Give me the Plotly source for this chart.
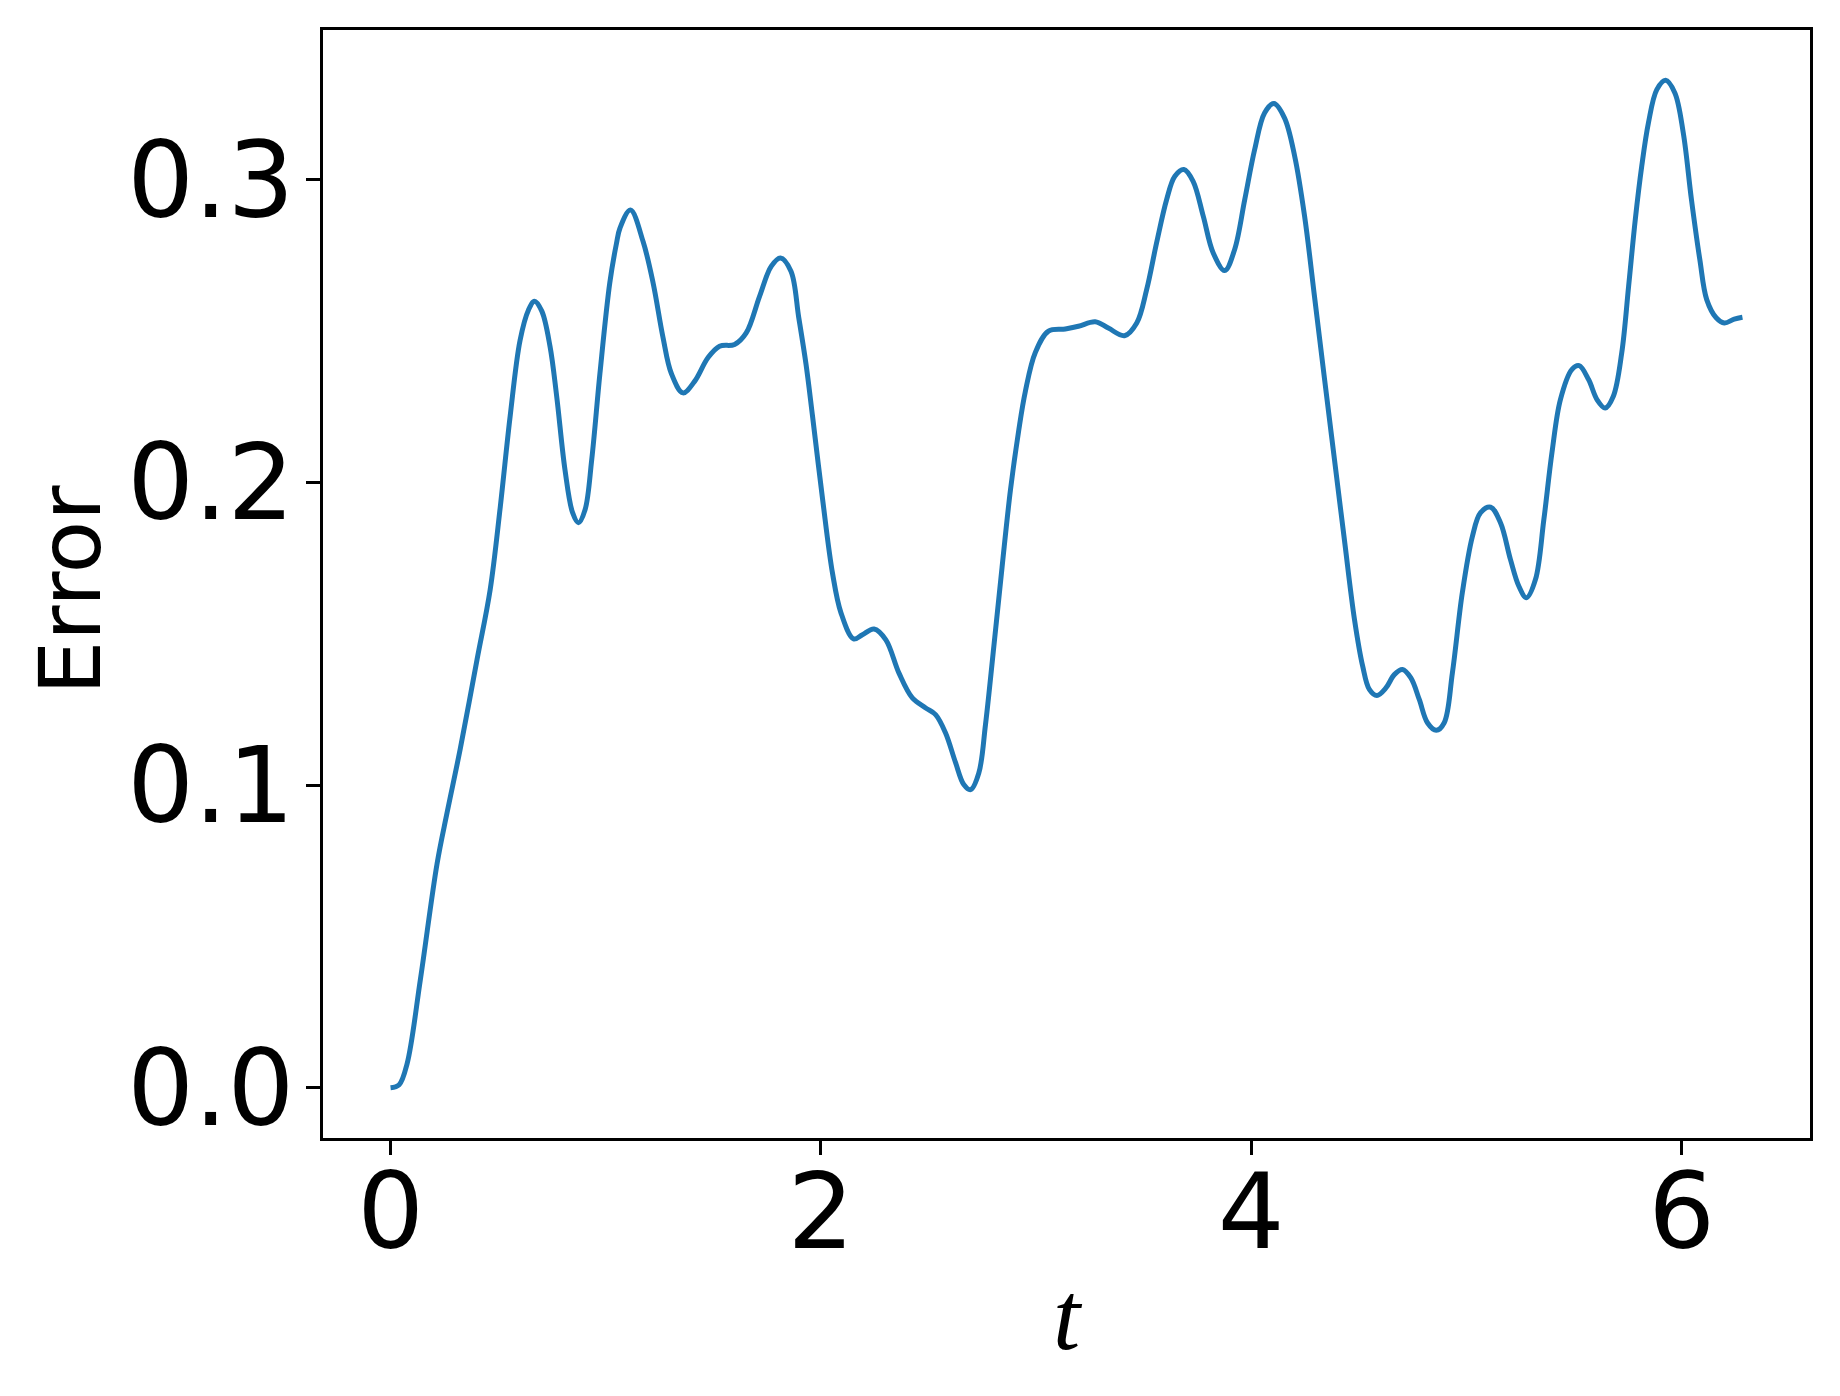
import plotly.graph_objects as go

t_values = [
    0.000, 0.040, 0.077, 0.139, 0.216, 0.263, 0.324, 0.402, 0.463, 0.510,
    0.556, 0.602, 0.641, 0.669, 0.703, 0.741, 0.772, 0.811, 0.846, 0.873,
    0.904, 0.935, 0.973, 1.019, 1.050, 1.066, 1.115, 1.174, 1.220, 1.266,
    1.305, 1.359, 1.413, 1.475, 1.529, 1.599, 1.653, 1.715, 1.769, 1.812,
    1.861, 1.897, 1.931, 1.961, 2.008, 2.054, 2.093, 2.152, 2.193, 2.247,
    2.302, 2.363, 2.425, 2.487, 2.533, 2.579, 2.626, 2.664, 2.696, 2.734,
    2.765, 2.804, 2.842, 2.881, 2.919, 2.950, 2.997, 3.058, 3.136, 3.197,
    3.275, 3.336, 3.411, 3.468, 3.514, 3.560, 3.607, 3.645, 3.687, 3.730,
    3.777, 3.823, 3.877, 3.923, 3.970, 4.016, 4.062, 4.106, 4.155, 4.202,
    4.248, 4.294, 4.341, 4.387, 4.433, 4.480, 4.518, 4.549, 4.584, 4.626,
    4.665, 4.703, 4.742, 4.781, 4.819, 4.860, 4.897, 4.935, 4.981, 5.028,
    5.066, 5.113, 5.159, 5.205, 5.244, 5.279, 5.321, 5.360, 5.398, 5.437,
    5.490, 5.524, 5.568, 5.607, 5.645, 5.683, 5.722, 5.754, 5.785, 5.815,
    5.846, 5.885, 5.926, 5.969, 6.008, 6.046, 6.085, 6.117, 6.161, 6.199,
    6.245, 6.283,
]
error_values = [
    0.0000, 0.0010, 0.0080, 0.0360, 0.0740, 0.0910, 0.1120, 0.1415, 0.1646, 0.1920,
    0.2220, 0.2470, 0.2570, 0.2599, 0.2566, 0.2450, 0.2285, 0.2040, 0.1900, 0.1867,
    0.1910, 0.2076, 0.2360, 0.2660, 0.2790, 0.2840, 0.2900, 0.2795, 0.2660, 0.2480,
    0.2360, 0.2296, 0.2334, 0.2412, 0.2450, 0.2456, 0.2494, 0.2615, 0.2714, 0.2742,
    0.2698, 0.2545, 0.2390, 0.2220, 0.1944, 0.1700, 0.1570, 0.1483, 0.1497, 0.1516,
    0.1480, 0.1370, 0.1288, 0.1255, 0.1233, 0.1173, 0.1074, 0.1002, 0.0985, 0.1040,
    0.1200, 0.1460, 0.1720, 0.1975, 0.2170, 0.2300, 0.2430, 0.2500, 0.2507, 0.2516,
    0.2531, 0.2510, 0.2485, 0.2527, 0.2637, 0.2791, 0.2935, 0.3012, 0.3034, 0.2995,
    0.2880, 0.2759, 0.2700, 0.2770, 0.2935, 0.3100, 0.3221, 0.3252, 0.3204, 0.3078,
    0.2880, 0.2615, 0.2340, 0.2075, 0.1811, 0.1547, 0.1393, 0.1316, 0.1296, 0.1321,
    0.1365, 0.1382, 0.1354, 0.1283, 0.1206, 0.1181, 0.1206, 0.1371, 0.1635, 0.1822,
    0.1900, 0.1918, 0.1866, 0.1745, 0.1657, 0.1619, 0.1679, 0.1877, 0.2100, 0.2274,
    0.2373, 0.2386, 0.2340, 0.2274, 0.2246, 0.2285, 0.2428, 0.2648, 0.2869, 0.3045,
    0.3188, 0.3298, 0.3329, 0.3287, 0.3155, 0.2935, 0.2736, 0.2604, 0.2544, 0.2527,
    0.2540, 0.2546,
]
x_ticks = [0, 2, 4, 6]
x_tick_labels = ["0", "2", "4", "6"]
y_ticks = [0.0, 0.1, 0.2, 0.3]
y_tick_labels = ["0.0", "0.1", "0.2", "0.3"]
x_title = "t"
y_title = "Error"

fig = go.Figure()
fig.add_trace(go.Scatter(
    x=t_values, y=error_values, mode="lines",
    line=dict(color="#1f77b4", width=5, shape="spline", smoothing=1.0),
    showlegend=False, hoverinfo="skip",
))

tick_font = dict(family="DejaVu Sans", size=105, color="black")

# the page body adds an 8px offset; the figure is sized so the plot lands where the reference has it
fig.update_layout(
    width=1832, height=1388,
    margin=dict(l=315, r=30, t=22, b=258, pad=0),
    paper_bgcolor="white", plot_bgcolor="white",
    xaxis=dict(
        range=[-0.314, 6.597], tickmode="array", tickvals=x_ticks, ticktext=x_tick_labels,
        showgrid=False, zeroline=False, showline=True, mirror=True, automargin=False,
        linecolor="black", linewidth=2.5, ticks="outside", ticklen=14, tickwidth=2.5,
        tickcolor="black", tickfont=tick_font, ticklabelstandoff=-33,
        title=dict(text=x_title, font=dict(family="Liberation Serif", size=98, color="black",
                                           style="italic"), standoff=9),
    ),
    yaxis=dict(
        range=[-0.0166, 0.3495], tickmode="array", tickvals=y_ticks, ticktext=y_tick_labels,
        showgrid=False, zeroline=False, showline=True, mirror=True, automargin=False,
        linecolor="black", linewidth=2.5, ticks="outside", ticklen=14, tickwidth=2.5,
        tickcolor="black", tickfont=tick_font, ticklabelstandoff=-9,
    ),
    annotations=[dict(
        text=y_title, xref="paper", yref="paper", x=-0.1701, y=0.4946,
        xanchor="center", yanchor="middle", textangle=-90, showarrow=False,
        font=dict(family="DejaVu Sans", size=86, color="black"),
    )],
)
fig.write_html("out.html")
